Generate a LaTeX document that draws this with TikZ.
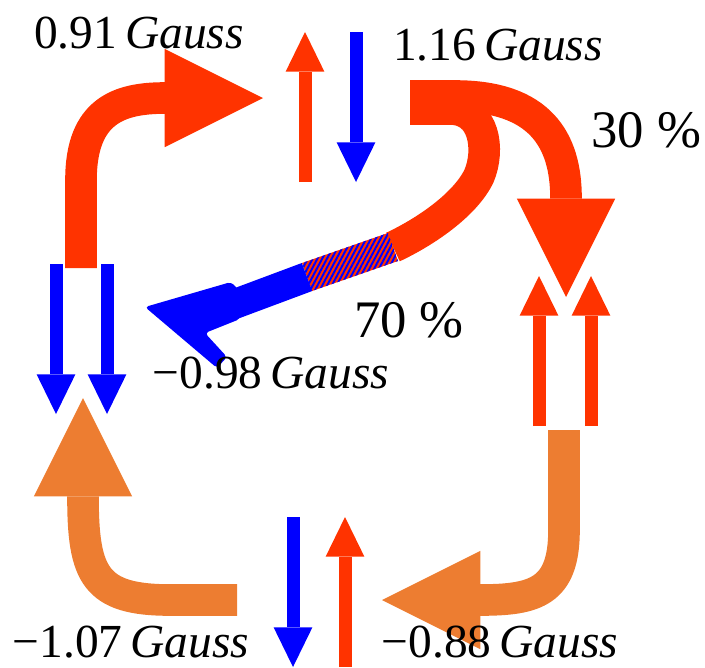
\documentclass[tikz,border=0pt]{standalone}
\usepackage{fontspec}
\setmainfont{Liberation Serif}
\usetikzlibrary{arrows.meta,patterns.meta}
\definecolor{hot}{HTML}{FF3300}
\definecolor{cold}{HTML}{0000FF}
\definecolor{warm}{HTML}{ED7D31}
\tikzset{
  band/.style={line width=18pt},
  bigtip/.style={-{Triangle[length=56pt,width=56pt,line width=0pt]}},
  spin/.style={line width=7.4pt, -{Triangle[length=22.5pt,width=22pt,line width=0pt]}},
  val/.style={inner sep=0pt, font=\fontsize{27}{30}\selectfont},
  pct/.style={inner sep=0pt, font=\fontsize{30}{33}\selectfont},
}
\newcommand{\gs}[1]{#1\,\textit{Gauss}}

\begin{document}
\begin{tikzpicture}[x=0.02cm, y=-0.02cm]
    \useasboundingbox (0,0) rectangle (705,667);
    % end points of the big bands
    \coordinate (a0) at (81,268);  \coordinate (a1) at (263,98);
    \coordinate (b0) at (410,96);  \coordinate (b1) at (566,297);
    \coordinate (c0) at (410,109); \coordinate (c1) at (393,247);
    \coordinate (c2) at (307,277); \coordinate (c3) at (232,305);
    \coordinate (c4) at (145,307);
    \coordinate (d0) at (564,430); \coordinate (d1) at (382,600);
    \coordinate (e0) at (237,600); \coordinate (e1) at (83,398);
    % spin arrows
    \coordinate (s1) at (305,182); \coordinate (s2) at (305,32);
    \coordinate (s3) at (356,32);  \coordinate (s4) at (356,182);
    \coordinate (s5) at (56,264);  \coordinate (s6) at (56,414);
    \coordinate (s7) at (107,264); \coordinate (s8) at (107,414);
    \coordinate (s9) at (539,426); \coordinate (s10) at (539,276);
    \coordinate (s11) at (591,426); \coordinate (s12) at (591,276);
    \coordinate (s13) at (293,517); \coordinate (s14) at (293,667);
    \coordinate (s15) at (345,667); \coordinate (s16) at (345,517);

    \draw[band, hot, bigtip] (a0) -- (81,180) .. controls (81,110) and (120,98) .. (165,98) -- (a1);
    \draw[band, hot, bigtip] (b0) -- (455,96) .. controls (540,96) and (566,140) .. (566,198) -- (b1);
    \draw[band, hot] (c0) -- (450,109) .. controls (485,109) and (490,150) .. (479,176)
      .. controls (465,205) and (425,232) .. (c1);
    \fill[hot] (398,261) -- (388,233) -- (302,263) -- (312,291) -- cycle;
    \fill[pattern={Lines[angle=62,distance=2.4pt,line width=1.1pt]}, pattern color=cold]
      (398,261) -- (388,233) -- (302,263) -- (312,291) -- cycle;
    \draw[line width=17pt, cold] (c2) -- (c3);
    \fill[cold, rounded corners=2pt] (c4) -- (231,282) -- (238,289) -- (240,319) -- (205,333)
      -- (227,357) -- (217,368) -- cycle;
    \draw[band, warm, bigtip] (d0) -- (564,530) .. controls (564,592) and (535,600) .. (480,600) -- (d1);
    \draw[band, warm, bigtip] (e0) -- (170,600) .. controls (95,600) and (83,575) .. (83,497) -- (e1);

    \draw[spin, hot] (s1) -- (s2);   \draw[spin, cold] (s3) -- (s4);
    \draw[spin, cold] (s5) -- (s6);  \draw[spin, cold] (s7) -- (s8);
    \draw[spin, hot] (s9) -- (s10);  \draw[spin, hot] (s11) -- (s12);
    \draw[spin, cold] (s13) -- (s14); \draw[spin, hot] (s15) -- (s16);

    \node[val] (g1) at (139,33) {\gs{0.91}};
    \node[val] (g2) at (498,45) {\gs{1.16}};
    \node[val] (g3) at (271,373) {\gs{−0.98}};
    \node[val] (g4) at (131,642) {\gs{−1.07}};
    \node[val] (g5) at (500,642) {\gs{−0.88}};
    \node[pct] (p1) at (646,130) {30 \%};
    \node[pct] (p2) at (409,320) {70 \%};
  \end{tikzpicture}
\end{document}
